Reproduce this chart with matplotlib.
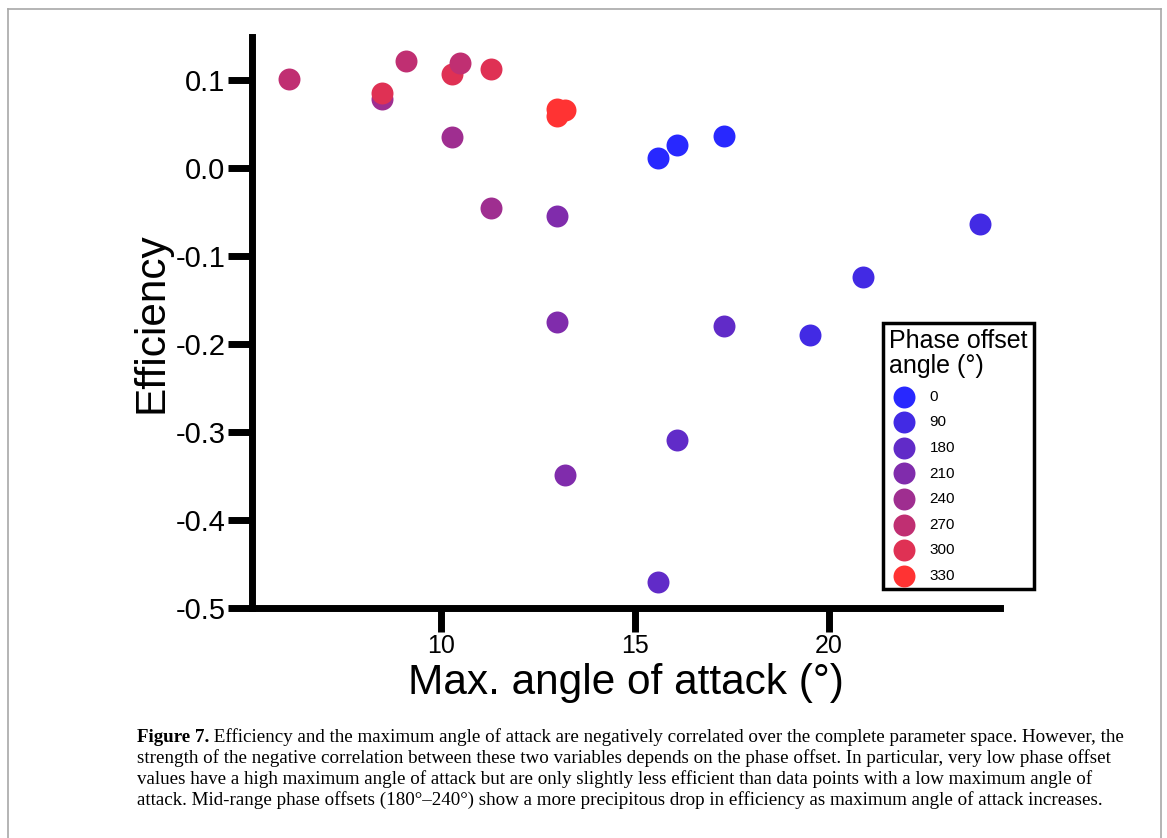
import matplotlib
matplotlib.use("Agg")
import matplotlib.pyplot as plt
from matplotlib.lines import Line2D

plt.rcParams["font.family"] = ["Liberation Sans", "DejaVu Sans"]
plt.rcParams["axes.unicode_minus"] = False

# ---------------------------------------------------------------------------
# data: max angle of attack (deg) and efficiency
# ---------------------------------------------------------------------------
phase_offsets = [0, 90, 180, 210, 240, 270, 300, 330]
phase_colors = ["#2828FF", "#422AE4", "#612BC8", "#802CAC", "#9F2E90",
                "#C02F72", "#DF3154", "#FF3333"]

aoa_0 = [15.58, 16.08, 17.29]
eff_0 = [0.011, 0.026, 0.037]
aoa_90 = [19.51, 20.88, 23.88]
eff_90 = [-0.190, -0.124, -0.064]
aoa_180 = [15.58, 16.08, 17.29]
eff_180 = [-0.470, -0.309, -0.180]
aoa_210 = [12.99, 13.00, 13.19]
eff_210 = [-0.175, -0.054, -0.349]
aoa_240 = [8.49, 10.29, 11.30]
eff_240 = [0.079, 0.035, -0.045]
aoa_270 = [6.09, 9.09, 10.49]
eff_270 = [0.101, 0.122, 0.119]
aoa_300 = [8.49, 10.29, 11.30]
eff_300 = [0.085, 0.107, 0.113]
aoa_330 = [12.98, 13.20, 12.98]
eff_330 = [0.067, 0.066, 0.059]

aoa = [aoa_0, aoa_90, aoa_180, aoa_210, aoa_240, aoa_270, aoa_300, aoa_330]
eff = [eff_0, eff_90, eff_180, eff_210, eff_240, eff_270, eff_300, eff_330]

xticks = [10, 15, 20]
yticks = [0.1, 0.0, -0.1, -0.2, -0.3, -0.4, -0.5]
ytick_labels = ["0.1", "0.0", "-0.1", "-0.2", "-0.3", "-0.4", "-0.5"]

caption_bold = "Figure 7."
caption_lines = [
    " Efficiency and the maximum angle of attack are negatively correlated over the complete parameter space. However, the",
    "strength of the negative correlation between these two variables depends on the phase offset. In particular, very low phase offset",
    "values have a high maximum angle of attack but are only slightly less efficient than data points with a low maximum angle of",
    "attack. Mid-range phase offsets (180°\u2013240°) show a more precipitous drop in efficiency as maximum angle of attack increases.",
]

# ---------------------------------------------------------------------------
# figure
# ---------------------------------------------------------------------------
W, H = 1167, 838
fig = plt.figure(figsize=(W / 100, H / 100), dpi=100)
ax = fig.add_axes([251.7 / W, 1 - 608 / H, 748 / W, 571 / H])

# 270 sits on top of 300 in the original, so draw it later
draw_order = [0, 1, 2, 3, 4, 6, 5, 7]
handles = [None] * len(phase_offsets)
for z, i in enumerate(draw_order):
    handles[i] = ax.scatter(aoa[i], eff[i], s=250, color=phase_colors[i],
                            linewidths=0, zorder=3 + z,
                            label=str(phase_offsets[i]))

ax.set_xlim(5.12, 24.4)
ax.set_ylim(-0.5, 0.149)
ax.set_xticks(xticks)
ax.set_yticks(yticks)
ax.set_yticklabels(ytick_labels)

for side in ["top", "right"]:
    ax.spines[side].set_visible(False)
for side in ["left", "bottom"]:
    ax.spines[side].set_linewidth(5)
ax.tick_params(length=17, width=5, pad=2)
ax.tick_params(axis="x", labelsize=18)
ax.tick_params(axis="y", labelsize=21)

ax.set_xlabel("Max. angle of attack (°)", fontsize=30.5, labelpad=3)
ax.set_ylabel("Efficiency", fontsize=30.5, labelpad=3)

leg = ax.legend(handles, [str(p) for p in phase_offsets],
                title="Phase offset\nangle (°)", loc="upper left",
                bbox_to_anchor=(883 / W, 1 - 323 / H),
                bbox_transform=fig.transFigure,
                fontsize=11, title_fontsize=18, frameon=True, fancybox=False,
                edgecolor="black", framealpha=1, borderpad=0.4,
                labelspacing=0.76, handletextpad=0.65, scatterpoints=1,
                alignment="left", borderaxespad=0)
leg.get_title().set_linespacing(1.05)
leg.get_frame().set_linewidth(2.5)
leg.set_zorder(20)

# light grey frame round the whole figure (open at the bottom)
frame_kw = dict(color="#A8A8A8", lw=1.2, transform=fig.transFigure)
fig.add_artist(Line2D([8 / W, 8 / W], [0, 1 - 9 / H], **frame_kw))
fig.add_artist(Line2D([8 / W, 1161 / W], [1 - 9 / H, 1 - 9 / H], **frame_kw))
fig.add_artist(Line2D([1161 / W, 1161 / W], [0, 1 - 9 / H], **frame_kw))

# caption
cap_kw = dict(family=["Liberation Serif", "DejaVu Serif"], fontsize=13.7,
              va="baseline", ha="left")
x0 = 137 / W
base = 742
step = 21
t_bold = fig.text(x0, 1 - base / H, caption_bold, fontweight="bold", **cap_kw)
renderer = fig.canvas.get_renderer()
bb = t_bold.get_window_extent(renderer)
fig.text(bb.x1 / W, 1 - base / H, caption_lines[0], **cap_kw)
for k, line in enumerate(caption_lines[1:], start=1):
    fig.text(x0, 1 - (base + k * step) / H, line, **cap_kw)

fig.savefig("out.png", dpi=100)
